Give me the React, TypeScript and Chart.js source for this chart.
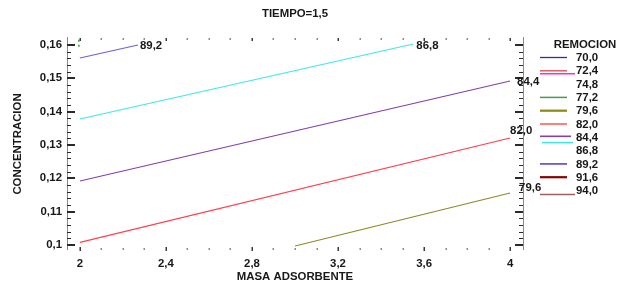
import React, { useEffect, useRef } from 'react';
import { Chart, registerables } from 'chart.js';

Chart.register(...registerables);

// ---------- data ----------
const chartTitle = 'TIEMPO=1,5';
const xTitle = 'MASA ADSORBENTE';
const yTitle = 'CONCENTRACION';
const legendTitle = 'REMOCION';

const xTickValues = [2, 2.4, 2.8, 3.2, 3.6, 4];
const yTickValues = [0.1, 0.11, 0.12, 0.13, 0.14, 0.15, 0.16];

const remocionLevels = ['70,0', '72,4', '74,8', '77,2', '79,6', '82,0', '84,4', '86,8', '89,2', '91,6', '94,0'];

// contour lines (MASA ADSORBENTE, CONCENTRACION)
const contour892X = [2, 2.27];
const contour892Y = [0.1561, 0.16];
const contour868X = [2, 3.55];
const contour868Y = [0.1378, 0.1603];
const contour844X = [2, 4];
const contour844Y = [0.1192, 0.1492];
const contour820X = [2, 4];
const contour820Y = [0.1008, 0.1321];
const contour796X = [3.0, 4];
const contour796Y = [0.0997, 0.1156];
const contour772X = [1.995, 1.995];
const contour772Y = [0.1595, 0.1617];

const contourLabels = ['89,2', '86,8', '84,4', '82,0', '79,6', ''];

// ---------- styles ----------
const TEXT = '#181818';
const FONT_FAMILY = 'Arial, "Liberation Sans", sans-serif';
const FONT_SIZE = 11.4;
const FONT = `bold ${FONT_SIZE}px ${FONT_FAMILY}`;

const lineColors = ['#6a62d6', '#3fe8e8', '#8440a8', '#ff3f4a', '#8a8a2a', '#3fa03f'];
const labelOffsets: [number, number][] = [[2, 1], [3, 2], [7, 1], [0, -7], [9, -5], [0, 0]];

const legendSamples = [
  [{ color: '#2a2ac0', dy: 0, x0: 540, x1: 567, w: 1.3 }],
  [{ color: '#e05a6a', dy: 0, x0: 540, x1: 567, w: 1.5 }, { color: '#ff2ad2', dy: 3, x0: 540, x1: 575, w: 1.5 }],
  [],
  [{ color: '#3fa03f', dy: 0, x0: 540, x1: 567, w: 1.5 }],
  [{ color: '#8a8a10', dy: 0, x0: 540, x1: 567, w: 2.2 }],
  [{ color: '#ff3a3a', dy: 0, x0: 540, x1: 567, w: 1.3 }],
  [{ color: '#8440a8', dy: -1, x0: 540, x1: 571, w: 1.6 }],
  [{ color: '#40e6e6', dy: -8, x0: 542, x1: 573, w: 1.6 }],
  [{ color: '#6a5ad8', dy: 0, x0: 540, x1: 567, w: 1.8 }],
  [{ color: '#8a0000', dy: 0, x0: 540, x1: 567, w: 2.2 }],
  [{ color: '#a06060', dy: 4, x0: 540, x1: 575, w: 1.5 }],
];

const fmt = (v: number) => String(Number(Number(v).toFixed(2))).replace('.', ',');

const toPoints = (xs: number[], ys: number[]) => xs.map((x, i) => ({ x, y: ys[i] }));

const framePlugin = {
  id: 'framePlugin',
  beforeDatasetsDraw(chart: any) {
    const { ctx, chartArea, scales } = chart;
    const { left, right, top, bottom } = chartArea;
    const xs = scales.x;
    const ys = scales.y;
    ctx.save();
    // axis lines
    ctx.strokeStyle = '#8a8a8a';
    ctx.lineWidth = 1;
    ctx.beginPath();
    ctx.moveTo(left + 0.5, top - 2);
    ctx.lineTo(left + 0.5, bottom + 1);
    ctx.moveTo(right + 0.5, top - 2);
    ctx.lineTo(right + 0.5, bottom + 1);
    ctx.stroke();
    // y ticks
    ctx.fillStyle = '#2a2a2a';
    for (let i = 0; i <= 30; i++) {
      const v = 0.1 + i * 0.002;
      const py = Math.round(ys.getPixelForValue(v));
      const major = i % 5 === 0;
      if (major) {
        ctx.fillRect(left, py - 1, 8, 2);
        ctx.fillRect(right - 8, py - 1, 8, 2);
      } else {
        ctx.fillRect(left, py, 4, 1);
        ctx.fillRect(right - 4, py, 4, 1);
      }
    }
    // x dotted ticks top & bottom
    for (let i = 0; i <= 20; i++) {
      const v = 2 + i * 0.1;
      const px = Math.round(xs.getPixelForValue(v));
      const major = i % 4 === 0;
      ctx.fillStyle = major ? '#3a3a3a' : '#8c8c8c';
      if (major) {
        ctx.fillRect(px - 0.5, bottom - 2, 1.5, 4);
        ctx.fillRect(px - 0.5, top - 1, 1.5, 3);
      } else {
        ctx.fillRect(px - 0.5, bottom - 1, 1.5, 2);
        ctx.fillRect(px - 0.5, top - 1, 1.5, 2);
      }
    }
    ctx.restore();
  },
  afterDraw(chart: any) {
    const { ctx, chartArea } = chart;
    ctx.save();
    ctx.font = FONT;
    ctx.fillStyle = TEXT;
    // title
    ctx.textAlign = 'center';
    ctx.textBaseline = 'middle';
    ctx.fillText(chartTitle, (chartArea.left + chartArea.right) / 2, 14);
    // contour labels
    ctx.textAlign = 'left';
    chart.data.datasets.forEach((ds: any, i: number) => {
      const text = contourLabels[i];
      if (!text) return;
      const meta = chart.getDatasetMeta(i);
      const last = meta.data[meta.data.length - 1];
      const [dx, dy] = labelOffsets[i];
      ctx.fillText(text, last.x + dx, last.y + dy);
    });
    // legend
    ctx.textAlign = 'center';
    ctx.fillText(legendTitle, 585, 45);
    ctx.textAlign = 'left';
    remocionLevels.forEach((lvl, i) => {
      const y = 57.5 + i * 13.3;
      legendSamples[i].forEach((s) => {
        ctx.strokeStyle = s.color;
        ctx.lineWidth = s.w;
        ctx.beginPath();
        ctx.moveTo(s.x0, y + s.dy);
        ctx.lineTo(s.x1, y + s.dy);
        ctx.stroke();
      });
      ctx.fillStyle = TEXT;
      ctx.fillText(lvl, 576, y + 0.5);
    });
    ctx.restore();
  },
};

export default function App() {
  const canvasRef = useRef<HTMLCanvasElement | null>(null);

  useEffect(() => {
    if (!canvasRef.current) return;
    const series = [
      toPoints(contour892X, contour892Y),
      toPoints(contour868X, contour868Y),
      toPoints(contour844X, contour844Y),
      toPoints(contour820X, contour820Y),
      toPoints(contour796X, contour796Y),
      toPoints(contour772X, contour772Y),
    ];
    const font = { family: FONT_FAMILY, size: FONT_SIZE, weight: 'bold' as const };
    const chart = new Chart(canvasRef.current, {
      type: 'scatter',
      data: {
        datasets: series.map((data, i) => ({
          label: contourLabels[i] || 'frag',
          data,
          showLine: true,
          borderColor: lineColors[i],
          backgroundColor: lineColors[i],
          borderWidth: i === 5 ? 1.6 : 1.2,
          borderDash: i === 5 ? [2, 3] : [],
          pointRadius: 0,
          fill: false,
        })),
      },
      options: {
        responsive: false,
        animation: false,
        devicePixelRatio: 1,
        layout: { padding: { top: 39, right: 106, left: 0, bottom: 0 } },
        plugins: {
          legend: { display: false },
          tooltip: { enabled: false },
          title: { display: false },
        },
        scales: {
          x: {
            type: 'linear',
            min: 1.94,
            max: 4.06,
            afterBuildTicks: (s: any) => {
              s.ticks = xTickValues.map((value) => ({ value }));
            },
            afterFit: (s: any) => {
              s.height = 49;
            },
            grid: { display: false, drawTicks: false },
            border: { display: false },
            ticks: {
              font,
              color: TEXT,
              padding: 8,
              maxRotation: 0,
              autoSkip: false,
              callback: (v: any) => fmt(v),
            },
            title: {
              display: true,
              text: xTitle,
              font,
              color: TEXT,
              padding: { top: 0, bottom: 14 },
            },
          },
          y: {
            type: 'linear',
            min: 0.0988,
            max: 0.1618,
            afterBuildTicks: (s: any) => {
              s.ticks = yTickValues.map((value) => ({ value }));
            },
            afterFit: (s: any) => {
              s.width = 67;
            },
            grid: { display: false, drawTicks: false },
            border: { display: false },
            ticks: {
              font,
              color: TEXT,
              padding: 5,
              autoSkip: false,
              callback: (v: any) => fmt(v),
            },
            title: {
              display: true,
              text: yTitle,
              font,
              color: TEXT,
              padding: { top: 11, bottom: 0 },
            },
          },
        },
      },
      plugins: [framePlugin],
    });
    return () => chart.destroy();
  }, []);

  return (
    <div style={{ position: 'fixed', left: 0, top: 0, width: 629, height: 298, background: '#fff' }}>
      <canvas ref={canvasRef} width={629} height={298} style={{ width: 629, height: 298, display: 'block' }} />
    </div>
  );
}
